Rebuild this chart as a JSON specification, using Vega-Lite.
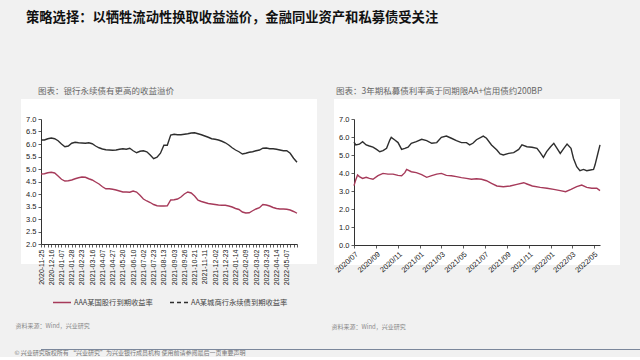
{
  "$schema": "https://vega.github.io/schema/vega-lite/v6.json",
  "background": "#f1f1f1",
  "padding": {"left": -5, "top": 11, "right": 0, "bottom": 0},
  "title": {"text": "策略选择：以牺牲流动性换取收益溢价，金融同业资产和私募债受关注", "anchor": "start", "dx": 31, "fontSize": 13.3, "fontWeight": "bold", "color": "#111", "font": "Noto Sans CJK SC", "offset": 42},
  "config": {
    "font": "Noto Sans CJK SC",
    "view": {"stroke": null, "fill": "white"},
    "axis": {"domainColor": "#333", "tickColor": "#333", "labelColor": "#222", "labelFont": "Liberation Sans", "grid": false, "tickSize": 3, "labelPadding": 2, "domainWidth": 1, "tickWidth": 0.8}
  },
  "datasets": {
    "left": [
      {"d": "2020-11-25", "r": 4.80, "k": 6.16}, {"d": "2020-12-02", "r": 4.81, "k": 6.16}, {"d": "2020-12-09", "r": 4.85, "k": 6.21},
      {"d": "2020-12-16", "r": 4.87, "k": 6.24}, {"d": "2020-12-23", "r": 4.84, "k": 6.21}, {"d": "2020-12-30", "r": 4.72, "k": 6.13},
      {"d": "2021-01-07", "r": 4.59, "k": 6.00}, {"d": "2021-01-14", "r": 4.52, "k": 5.89}, {"d": "2021-01-21", "r": 4.53, "k": 5.92},
      {"d": "2021-01-28", "r": 4.56, "k": 6.03}, {"d": "2021-02-04", "r": 4.61, "k": 6.07}, {"d": "2021-02-18", "r": 4.65, "k": 6.05},
      {"d": "2021-02-23", "r": 4.68, "k": 6.04}, {"d": "2021-03-02", "r": 4.67, "k": 6.03}, {"d": "2021-03-09", "r": 4.61, "k": 6.05},
      {"d": "2021-03-16", "r": 4.56, "k": 6.01}, {"d": "2021-03-23", "r": 4.48, "k": 5.92}, {"d": "2021-03-30", "r": 4.40, "k": 5.85},
      {"d": "2021-04-07", "r": 4.29, "k": 5.80}, {"d": "2021-04-14", "r": 4.21, "k": 5.77}, {"d": "2021-04-21", "r": 4.21, "k": 5.76},
      {"d": "2021-04-27", "r": 4.19, "k": 5.75}, {"d": "2021-05-06", "r": 4.16, "k": 5.76}, {"d": "2021-05-13", "r": 4.12, "k": 5.79},
      {"d": "2021-05-20", "r": 4.08, "k": 5.81}, {"d": "2021-05-27", "r": 4.08, "k": 5.79}, {"d": "2021-06-03", "r": 4.07, "k": 5.83},
      {"d": "2021-06-10", "r": 4.12, "k": 5.73}, {"d": "2021-06-18", "r": 4.08, "k": 5.65}, {"d": "2021-06-25", "r": 3.95, "k": 5.71},
      {"d": "2021-07-02", "r": 3.80, "k": 5.73}, {"d": "2021-07-09", "r": 3.72, "k": 5.69}, {"d": "2021-07-16", "r": 3.66, "k": 5.56},
      {"d": "2021-07-23", "r": 3.58, "k": 5.41}, {"d": "2021-07-30", "r": 3.53, "k": 5.47}, {"d": "2021-08-06", "r": 3.52, "k": 5.63},
      {"d": "2021-08-13", "r": 3.52, "k": 5.95}, {"d": "2021-08-20", "r": 3.53, "k": 5.95}, {"d": "2021-08-27", "r": 3.76, "k": 6.36},
      {"d": "2021-09-03", "r": 3.77, "k": 6.39}, {"d": "2021-09-10", "r": 3.80, "k": 6.37}, {"d": "2021-09-17", "r": 3.88, "k": 6.37},
      {"d": "2021-09-26", "r": 4.00, "k": 6.39}, {"d": "2021-10-08", "r": 4.08, "k": 6.41}, {"d": "2021-10-14", "r": 4.04, "k": 6.44},
      {"d": "2021-10-21", "r": 3.92, "k": 6.45}, {"d": "2021-10-28", "r": 3.75, "k": 6.41}, {"d": "2021-11-04", "r": 3.70, "k": 6.37},
      {"d": "2021-11-11", "r": 3.66, "k": 6.32}, {"d": "2021-11-18", "r": 3.62, "k": 6.27}, {"d": "2021-11-25", "r": 3.60, "k": 6.21},
      {"d": "2021-12-02", "r": 3.58, "k": 6.19}, {"d": "2021-12-09", "r": 3.56, "k": 6.16}, {"d": "2021-12-16", "r": 3.55, "k": 6.11},
      {"d": "2021-12-23", "r": 3.55, "k": 6.05}, {"d": "2021-12-30", "r": 3.52, "k": 5.96}, {"d": "2022-01-07", "r": 3.48, "k": 5.85},
      {"d": "2022-01-14", "r": 3.42, "k": 5.76}, {"d": "2022-01-21", "r": 3.38, "k": 5.69}, {"d": "2022-01-28", "r": 3.28, "k": 5.60},
      {"d": "2022-02-09", "r": 3.24, "k": 5.63}, {"d": "2022-02-16", "r": 3.25, "k": 5.67}, {"d": "2022-02-23", "r": 3.33, "k": 5.69},
      {"d": "2022-03-02", "r": 3.40, "k": 5.73}, {"d": "2022-03-09", "r": 3.45, "k": 5.76}, {"d": "2022-03-16", "r": 3.58, "k": 5.83},
      {"d": "2022-03-23", "r": 3.56, "k": 5.84}, {"d": "2022-03-30", "r": 3.52, "k": 5.81}, {"d": "2022-04-07", "r": 3.46, "k": 5.81},
      {"d": "2022-04-14", "r": 3.42, "k": 5.79}, {"d": "2022-04-21", "r": 3.40, "k": 5.76}, {"d": "2022-04-28", "r": 3.40, "k": 5.73},
      {"d": "2022-05-07", "r": 3.39, "k": 5.73}, {"d": "2022-05-13", "r": 3.36, "k": 5.63}, {"d": "2022-05-20", "r": 3.30, "k": 5.43},
      {"d": "2022-05-25", "r": 3.23, "k": 5.27}
    ],
    "right": [
      {"d": "2020-07-01", "s": "r", "v": 3.30}, {"d": "2020-07-06", "s": "r", "v": 3.62}, {"d": "2020-07-11", "s": "r", "v": 3.89},
      {"d": "2020-07-16", "s": "r", "v": 3.80}, {"d": "2020-07-25", "s": "r", "v": 3.70}, {"d": "2020-08-04", "s": "r", "v": 3.76},
      {"d": "2020-08-13", "s": "r", "v": 3.70}, {"d": "2020-08-23", "s": "r", "v": 3.65}, {"d": "2020-09-06", "s": "r", "v": 3.85},
      {"d": "2020-09-20", "s": "r", "v": 3.98}, {"d": "2020-10-04", "s": "r", "v": 3.94}, {"d": "2020-10-18", "s": "r", "v": 3.94},
      {"d": "2020-11-01", "s": "r", "v": 3.87}, {"d": "2020-11-11", "s": "r", "v": 3.85}, {"d": "2020-11-20", "s": "r", "v": 4.02},
      {"d": "2020-11-25", "s": "r", "v": 4.20}, {"d": "2020-12-08", "s": "r", "v": 4.07}, {"d": "2020-12-22", "s": "r", "v": 4.02},
      {"d": "2021-01-06", "s": "r", "v": 3.91}, {"d": "2021-01-20", "s": "r", "v": 3.76}, {"d": "2021-02-03", "s": "r", "v": 3.85},
      {"d": "2021-02-17", "s": "r", "v": 3.94}, {"d": "2021-03-02", "s": "r", "v": 3.98}, {"d": "2021-03-16", "s": "r", "v": 3.87},
      {"d": "2021-03-30", "s": "r", "v": 3.85}, {"d": "2021-04-13", "s": "r", "v": 3.80}, {"d": "2021-04-27", "s": "r", "v": 3.74},
      {"d": "2021-05-11", "s": "r", "v": 3.70}, {"d": "2021-05-25", "s": "r", "v": 3.65}, {"d": "2021-06-08", "s": "r", "v": 3.68},
      {"d": "2021-06-22", "s": "r", "v": 3.65}, {"d": "2021-07-06", "s": "r", "v": 3.57}, {"d": "2021-07-20", "s": "r", "v": 3.43},
      {"d": "2021-08-04", "s": "r", "v": 3.28}, {"d": "2021-08-22", "s": "r", "v": 3.24}, {"d": "2021-09-10", "s": "r", "v": 3.28},
      {"d": "2021-09-29", "s": "r", "v": 3.37}, {"d": "2021-10-18", "s": "r", "v": 3.46}, {"d": "2021-10-27", "s": "r", "v": 3.39},
      {"d": "2021-11-11", "s": "r", "v": 3.28}, {"d": "2021-12-03", "s": "r", "v": 3.20}, {"d": "2021-12-22", "s": "r", "v": 3.15},
      {"d": "2022-01-10", "s": "r", "v": 3.09}, {"d": "2022-01-28", "s": "r", "v": 3.02}, {"d": "2022-02-12", "s": "r", "v": 2.96},
      {"d": "2022-02-27", "s": "r", "v": 3.09}, {"d": "2022-03-15", "s": "r", "v": 3.24}, {"d": "2022-03-29", "s": "r", "v": 3.33},
      {"d": "2022-04-12", "s": "r", "v": 3.20}, {"d": "2022-04-26", "s": "r", "v": 3.15}, {"d": "2022-05-10", "s": "r", "v": 3.15},
      {"d": "2022-05-19", "s": "r", "v": 3.02},
      {"d": "2020-07-01", "s": "k", "v": 5.72}, {"d": "2020-07-06", "s": "k", "v": 5.56}, {"d": "2020-07-16", "s": "k", "v": 5.60},
      {"d": "2020-07-25", "s": "k", "v": 5.74}, {"d": "2020-08-04", "s": "k", "v": 5.56}, {"d": "2020-08-13", "s": "k", "v": 5.50},
      {"d": "2020-08-23", "s": "k", "v": 5.44}, {"d": "2020-09-02", "s": "k", "v": 5.31}, {"d": "2020-09-11", "s": "k", "v": 5.18},
      {"d": "2020-09-20", "s": "k", "v": 5.24}, {"d": "2020-09-30", "s": "k", "v": 5.37}, {"d": "2020-10-09", "s": "k", "v": 5.83},
      {"d": "2020-10-13", "s": "k", "v": 5.98}, {"d": "2020-10-23", "s": "k", "v": 5.83}, {"d": "2020-11-01", "s": "k", "v": 5.69},
      {"d": "2020-11-11", "s": "k", "v": 5.31}, {"d": "2020-11-20", "s": "k", "v": 5.37}, {"d": "2020-11-29", "s": "k", "v": 5.44},
      {"d": "2020-12-08", "s": "k", "v": 5.65}, {"d": "2020-12-22", "s": "k", "v": 5.74}, {"d": "2021-01-06", "s": "k", "v": 5.87},
      {"d": "2021-01-20", "s": "k", "v": 5.80}, {"d": "2021-02-03", "s": "k", "v": 5.65}, {"d": "2021-02-17", "s": "k", "v": 5.69},
      {"d": "2021-03-02", "s": "k", "v": 5.98}, {"d": "2021-03-16", "s": "k", "v": 6.05}, {"d": "2021-03-30", "s": "k", "v": 5.93},
      {"d": "2021-04-13", "s": "k", "v": 5.80}, {"d": "2021-04-27", "s": "k", "v": 5.69}, {"d": "2021-05-11", "s": "k", "v": 5.69},
      {"d": "2021-05-20", "s": "k", "v": 5.56}, {"d": "2021-05-29", "s": "k", "v": 5.65}, {"d": "2021-06-08", "s": "k", "v": 5.85},
      {"d": "2021-06-27", "s": "k", "v": 6.05}, {"d": "2021-07-06", "s": "k", "v": 5.93}, {"d": "2021-07-20", "s": "k", "v": 5.56},
      {"d": "2021-08-04", "s": "k", "v": 5.28}, {"d": "2021-08-13", "s": "k", "v": 5.06}, {"d": "2021-08-22", "s": "k", "v": 5.00},
      {"d": "2021-09-06", "s": "k", "v": 5.09}, {"d": "2021-09-20", "s": "k", "v": 5.13}, {"d": "2021-10-04", "s": "k", "v": 5.31},
      {"d": "2021-10-13", "s": "k", "v": 5.56}, {"d": "2021-10-27", "s": "k", "v": 5.46}, {"d": "2021-11-10", "s": "k", "v": 5.43},
      {"d": "2021-11-24", "s": "k", "v": 5.37}, {"d": "2021-12-03", "s": "k", "v": 5.13}, {"d": "2021-12-12", "s": "k", "v": 4.87},
      {"d": "2021-12-21", "s": "k", "v": 5.19}, {"d": "2022-01-01", "s": "k", "v": 5.46}, {"d": "2022-01-10", "s": "k", "v": 5.65},
      {"d": "2022-01-19", "s": "k", "v": 5.37}, {"d": "2022-01-28", "s": "k", "v": 5.09}, {"d": "2022-02-07", "s": "k", "v": 5.37},
      {"d": "2022-02-16", "s": "k", "v": 5.61}, {"d": "2022-02-27", "s": "k", "v": 5.37}, {"d": "2022-03-06", "s": "k", "v": 4.81},
      {"d": "2022-03-15", "s": "k", "v": 4.35}, {"d": "2022-03-24", "s": "k", "v": 4.13}, {"d": "2022-04-03", "s": "k", "v": 4.20},
      {"d": "2022-04-12", "s": "k", "v": 4.13}, {"d": "2022-04-22", "s": "k", "v": 4.17}, {"d": "2022-05-01", "s": "k", "v": 4.20},
      {"d": "2022-05-05", "s": "k", "v": 4.44}, {"d": "2022-05-12", "s": "k", "v": 5.00}, {"d": "2022-05-19", "s": "k", "v": 5.56}
    ]
  },
  "vconcat": [
    {
      "spacing": -9,
      "hconcat": [
        {
          "width": 256, "height": 125,
          "view": {"fill": "white", "stroke": "white", "strokeWidth": 40},
          "title": {"text": "图表：银行永续债有更高的收益溢价", "anchor": "start", "frame": "group", "dx": -3, "fontSize": 8.5, "fontWeight": "normal", "color": "#666", "offset": 20},
          "data": {"name": "left"},
          "transform": [{"fold": ["r", "k"], "as": ["s", "v"]}],
          "mark": {"type": "line", "strokeWidth": 1.4},
          "encoding": {
            "x": {"field": "d", "type": "ordinal", "sort": null, "scale": {"type": "point", "padding": 0},
              "axis": {"labelAngle": -90, "labelFontSize": 7, "labelOverlap": false, "tickSize": 3,
                "labelExpr": "indexof(['2020-11-25','2020-12-16','2021-01-07','2021-01-28','2021-02-23','2021-03-16','2021-04-07','2021-04-27','2021-05-20','2021-06-10','2021-07-02','2021-07-23','2021-08-13','2021-09-03','2021-09-26','2021-10-21','2021-11-11','2021-12-02','2021-12-23','2022-01-14','2022-02-09','2022-03-02','2022-03-23','2022-04-14','2022-05-07'], datum.value) >= 0 ? datum.value : ''",
                "title": "资料来源：Wind，兴业研究", "titleFontSize": 6, "titleColor": "#888", "titleFontWeight": "normal", "titleAnchor": "start", "titleAlign": "left", "titleX": -26, "titleY": 81, "titleBaseline": "middle"}},
            "y": {"field": "v", "type": "quantitative", "scale": {"domain": [2, 7]},
              "axis": {"values": [2, 2.5, 3, 3.5, 4, 4.5, 5, 5.5, 6, 6.5, 7], "format": ".1f", "labelFontSize": 7.5, "title": null}},
            "color": {"field": "s", "type": "nominal", "scale": {"domain": ["r", "k"], "range": ["#a63a5a", "#2e2e2e"]},
              "legend": {"orient": "none", "legendX": 20, "legendY": 178, "direction": "horizontal", "title": null,
                "symbolType": "M-3,0H1", "symbolSize": 81, "symbolStrokeWidth": 1.5, "labelFontSize": 7.3, "labelColor": "#444", "labelOffset": 2, "columnPadding": 14,
                "labelExpr": "datum.value == 'r' ? 'AAA某国股行到期收益率' : 'AA某城商行永续债到期收益率'",
                "encode": {"symbols": {"update": {"strokeDash": {"signal": "datum.value == 'k' ? [4, 3] : [1, 0]"}}}}}}
          }
        },
        {
          "width": 246, "height": 126,
          "view": {"fill": "white", "stroke": "white", "strokeWidth": 40},
          "title": {"text": "图表：3年期私募债利率高于同期限AA+信用债约200BP", "anchor": "start", "frame": "group", "dx": -18, "fontSize": 8.5, "fontWeight": "normal", "color": "#666", "offset": 20},
          "data": {"name": "right"},
          "mark": {"type": "line", "strokeWidth": 1.4},
          "encoding": {
            "x": {"field": "d", "type": "temporal",
              "axis": {"format": "%Y/%m", "labelAngle": -42, "labelFontSize": 7.5, "labelOverlap": false, "tickCount": {"interval": "month", "step": 2},
                "title": "资料来源：Wind，兴业研究", "titleFontSize": 6, "titleColor": "#888", "titleFontWeight": "normal", "titleAnchor": "start", "titleAlign": "left", "titleX": -23, "titleY": 81, "titleBaseline": "middle"}},
            "y": {"field": "v", "type": "quantitative", "scale": {"domain": [0, 7]},
              "axis": {"values": [0, 1, 2, 3, 4, 5, 6, 7], "format": ".1f", "labelFontSize": 7.5, "title": null}},
            "color": {"field": "s", "type": "nominal", "scale": {"domain": ["r", "k"], "range": ["#a63a5a", "#2e2e2e"]},
              "legend": {"orient": "none", "legendX": 48, "legendY": 162, "direction": "vertical", "title": null,
                "symbolType": "M-3,0H1", "symbolSize": 72, "symbolStrokeWidth": 1.5, "labelFontSize": 7.5, "labelColor": "#444", "labelOffset": 2, "rowPadding": 0,
                "labelExpr": "datum.value == 'r' ? '中债企业债到期收益率(AA+):3年' : '私募债:发行利率:3年(MA30)'",
                "encode": {"symbols": {"update": {"strokeDash": {"signal": "datum.value == 'k' ? [4, 3] : [1, 0]"}}}}}}
          }
        }
      ]
    },
    {
      "width": 599, "height": 1,
      "view": {"fill": null, "stroke": null},
      "data": {"values": [{"a": 0, "b": 1}]},
      "mark": {"type": "rule", "color": "#7b879b", "strokeWidth": 1.2},
      "encoding": {
        "x": {"field": "a", "type": "quantitative", "scale": {"domain": [0, 1]}, "axis": null},
        "x2": {"field": "b"},
        "y": {"datum": 0.5, "type": "quantitative", "scale": {"domain": [0, 1]}, "axis": null}
      },
      "title": {"text": "© 兴业研究版权所有    “兴业研究”为兴业银行成员机构    使用前请参阅最后一页重要声明", "orient": "bottom", "anchor": "start", "dx": -26, "fontSize": 6, "fontWeight": "normal", "color": "#777", "offset": 0}
    }
  ],
  "spacing": -19
}
